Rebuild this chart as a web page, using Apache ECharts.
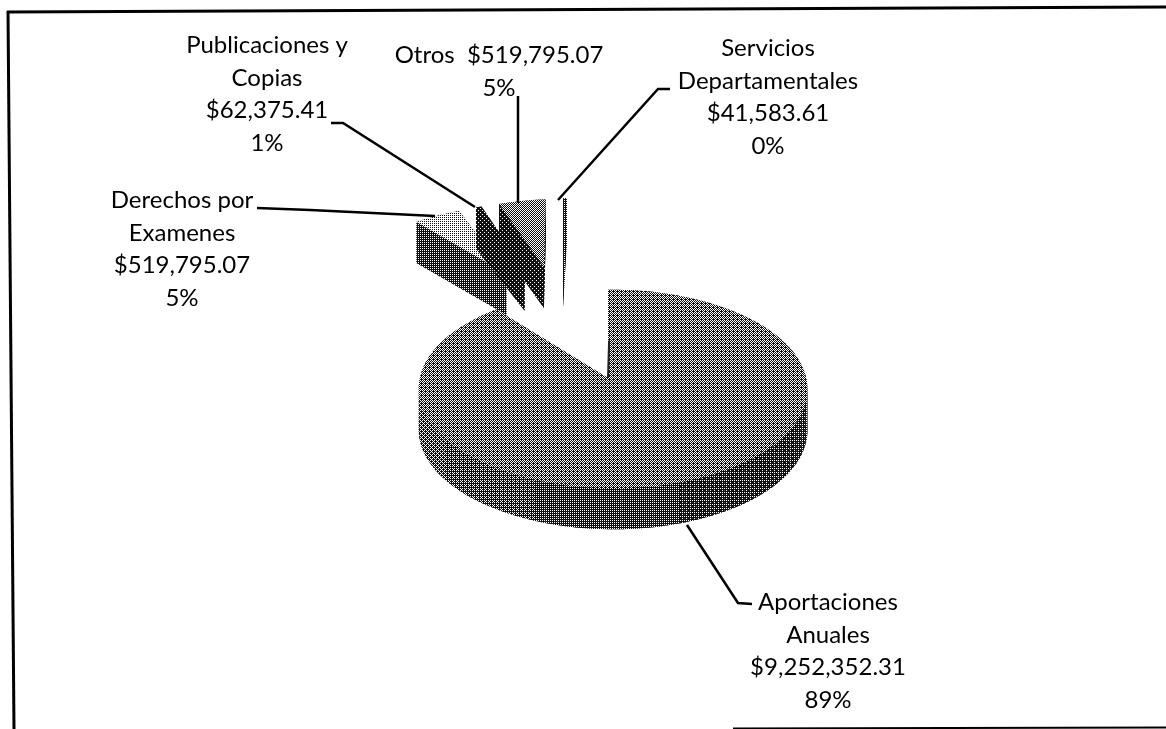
<!DOCTYPE html>
<html>
<head>
<meta charset="utf-8">
<style>html,body{margin:0;padding:0;background:#fff}#chart{width:1166px;height:729px}</style>
<script src="https://cdn.jsdelivr.net/npm/echarts@6/dist/echarts.min.js"></script>
</head>
<body>
<div id="chart"></div>
<script>
var categories = ['Aportaciones Anuales', 'Derechos por Examenes', 'Publicaciones y Copias', 'Otros', 'Servicios Departamentales'];
var amounts = [9252352.31, 519795.07, 62375.41, 519795.07, 41583.61];
var amountLabels = ['$9,252,352.31', '$519,795.07', '$62,375.41', '$519,795.07', '$41,583.61'];
var percentLabels = ['89%', '5%', '1%', '5%', '0%'];

var chart = echarts.init(document.getElementById('chart'));

// view of the tilted pie: pixels per unit and perspective factors
var view = {cx: 608, cy: 378, rx: 193, ry: 98, k: 0.111, m: 0.026, depth: 41, explode: 0.68, shiftU: -0.03};
var topGray = [118, 185, 40, 125, 70];
var wallGray = [80, 72, 40, 40, 60];

var total = amounts.reduce(function (a, b) { return a + b; }, 0);
var angles = [];
var start = 0;
amounts.forEach(function (v) {
    var sweep = v / total * 2 * Math.PI;
    angles.push([start, start + sweep]);
    start += sweep;
});
function midAngle(i) { return (angles[i][0] + angles[i][1]) / 2; }

function project(u, v, drop) {
    var s = 1 / (1 - view.k * v - view.m * u);
    return [view.cx + view.rx * u * s, view.cy + view.ry * v * s + (drop || 0)];
}
// outline of one slice in plane units, angle 0 is straight up, clockwise
function sliceOutline(i) {
    var ox = 0, oy = 0;
    if (i > 0) {
        ox = view.shiftU + view.explode * (Math.sin(midAngle(i)) - Math.sin(midAngle(0)));
        oy = -view.explode * (Math.cos(midAngle(i)) - Math.cos(midAngle(0)));
    }
    var pts = [[ox, oy]];
    var n = Math.max(2, Math.ceil((angles[i][1] - angles[i][0]) / 0.03));
    for (var j = 0; j <= n; j++) {
        var a = angles[i][0] + (angles[i][1] - angles[i][0]) * j / n;
        pts.push([ox + Math.sin(a), oy - Math.cos(a)]);
    }
    return pts;
}

var patterns = {};
// ordered dither tile so the fills look like the scanned halftone
function halftone(gray) {
    if (patterns[gray]) return patterns[gray];
    var bayer = [0, 8, 2, 10, 12, 4, 14, 6, 3, 11, 1, 9, 15, 7, 13, 5];
    var c = document.createElement('canvas');
    c.width = c.height = 4;
    var ctx = c.getContext('2d');
    for (var y = 0; y < 4; y++) {
        for (var x = 0; x < 4; x++) {
            ctx.fillStyle = (bayer[y * 4 + x] + 0.5) * 16 < gray ? '#fff' : '#111';
            ctx.fillRect(x, y, 1, 1);
        }
    }
    patterns[gray] = {image: c, repeat: 'repeat'};
    return patterns[gray];
}

// wall of the big slice gets darker going round to the right
function wallShade(i, j, count) {
    if (i !== 0) return wallGray[i];
    var t = j / count;
    if (t < 0.5) return 56;
    if (t < 0.62) return 72;
    if (t < 0.72) return 88;
    return 104;
}

function renderSlice(i) {
    var plane = sliceOutline(i);
    var top = plane.map(function (p) { return project(p[0], p[1]); });
    var low = plane.map(function (p) { return project(p[0], p[1], view.depth); });
    var kids = [{type: 'polygon', shape: {points: low}, style: {fill: halftone(wallGray[i])}}];
    for (var j = 0; j < top.length; j++) {
        var n = (j + 1) % top.length;
        kids.push({
            type: 'polygon',
            shape: {points: [top[j], top[n], low[n], low[j]]},
            style: {fill: halftone(wallShade(i, j, top.length))}
        });
    }
    kids.push({type: 'polygon', shape: {points: top}, style: {fill: halftone(topGray[i])}});
    if (i === 0) {
        // sliver of inner wall at the notch
        var mid = project(plane[0][0] + 0.006, plane[0][1] - 0.4);
        kids.push({type: 'line', shape: {x1: mid[0], y1: mid[1], x2: top[0][0], y2: top[0][1]}, style: {stroke: '#222', lineWidth: 2}});
    }
    return {type: 'group', children: kids};
}

// labels and leader lines
var labelAnchors = [
    {x: 828, y: 586, lines: ['Aportaciones', 'Anuales'], leader: [[752, 604], [738, 603], [687, 525]]},
    {x: 182, y: 184, lines: ['Derechos por', 'Examenes'], leader: [[257, 208], [310, 210], [435, 216]]},
    {x: 267, y: 29, lines: ['Publicaciones y', 'Copias'], leader: [[331, 123], [343, 123], [475, 207]]},
    {x: 499, y: 39, lines: ['Otros  ' + amountLabels[3]], leader: [[518, 96], [518, 203]]},
    {x: 768, y: 32, lines: ['Servicios', 'Departamentales'], leader: [[670, 89], [658, 89], [558, 200]]}
];

var graphics = [
    {type: 'line', shape: {x1: 7, y1: 12, x2: 1166, y2: 7}, style: {stroke: '#000', lineWidth: 3}},
    {type: 'line', shape: {x1: 8, y1: 11, x2: 14, y2: 729}, style: {stroke: '#000', lineWidth: 3}},
    {type: 'line', shape: {x1: 733, y1: 728.5, x2: 1166, y2: 727.5}, style: {stroke: '#000', lineWidth: 2}}
];
labelAnchors.forEach(function (a, i) {
    var lines = a.lines.slice();
    if (i !== 3) lines.push(amountLabels[i]);
    lines.push(percentLabels[i]);
    graphics.push({
        type: 'text', x: a.x, y: a.y, z: 5,
        style: {
            text: lines.join('\n'), fill: '#000', align: 'center', verticalAlign: 'top',
            font: '24px Lato', lineHeight: 32.7
        }
    });
    graphics.push({
        type: 'polyline', z: 5, shape: {points: a.leader},
        style: {stroke: '#000', lineWidth: 2.5, fill: 'none'}
    });
});

// far slices first so the big one stays in front
var drawOrder = [1, 2, 3, 4, 0];
chart.setOption({
    animation: false,
    backgroundColor: '#fff',
    graphic: graphics,
    series: drawOrder.map(function (i) {
        return {
            type: 'custom',
            name: categories[i],
            coordinateSystem: 'none',
            renderItem: function () {
                return renderSlice(i);
            },
            data: [amounts[i]]
        };
    })
});
</script>
</body>
</html>
